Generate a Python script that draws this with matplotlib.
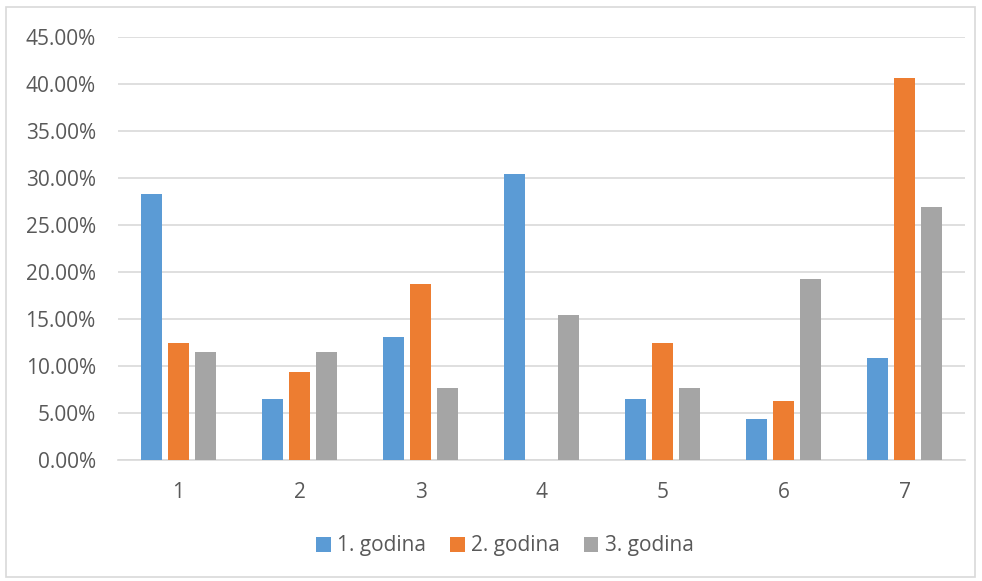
import matplotlib
matplotlib.use("Agg")
import matplotlib.pyplot as plt
from matplotlib.ticker import FuncFormatter, MultipleLocator
from matplotlib.patches import Rectangle
import numpy as np

categories = ["1", "2", "3", "4", "5", "6", "7"]
series_names = ["1. godina", "2. godina", "3. godina"]
godina1 = [28.26, 6.52, 13.04, 30.43, 6.52, 4.35, 10.87]
godina2 = [12.50, 9.375, 18.75, 0.0, 12.50, 6.25, 40.625]
godina3 = [11.54, 11.54, 7.69, 15.38, 7.69, 19.23, 26.92]
colors = ["#5B9BD5", "#ED7D31", "#A5A5A5"]

plt.rcParams['font.family'] = ['Open Sans', 'DejaVu Sans']

W, H = 982, 581
fig = plt.figure(figsize=(W/100, H/100), dpi=100)
fig.patches.append(Rectangle((6/W, 1-577/H), (975-6)/W, (577-7)/H, transform=fig.transFigure,
                             fill=False, edgecolor="#D9D9D9", linewidth=1.2))

ax = fig.add_axes([118/W, 1-460/H, (965-118)/W, (460-37)/H])
x = np.arange(len(categories))
bw = 21/121
step = 27/121
for i, (vals, name) in enumerate(zip([godina1, godina2, godina3], series_names)):
    ax.bar(x + (i-1)*step, vals, width=bw, color=colors[i], label=name, zorder=3)

ax.set_xlim(-0.5, len(categories)-0.5)
ax.set_ylim(0, 45)
ax.yaxis.set_major_locator(MultipleLocator(5))
ax.yaxis.set_major_formatter(FuncFormatter(lambda v, p: f"{v:.2f}%"))
ax.set_xticks(x)
ax.set_xticklabels(categories)
ax.grid(axis='y', color="#D9D9D9", linewidth=1.2, zorder=0)
for s in ["top", "right", "left"]:
    ax.spines[s].set_visible(False)
ax.spines["bottom"].set_color("#D9D9D9")
ax.spines["bottom"].set_linewidth(1.2)
ax.tick_params(axis='both', length=0, labelsize=15, colors="#595959")
ax.tick_params(axis='y', pad=16)
ax.tick_params(axis='x', pad=16)

fig.legend(loc="center", bbox_to_anchor=(505/W, 1-546/H), ncol=3, frameon=False,
           fontsize=15, handlelength=0.7, handleheight=0.7, handletextpad=0.3,
           columnspacing=1.15, labelcolor="#595959")

fig.savefig("out.png", dpi=100)
